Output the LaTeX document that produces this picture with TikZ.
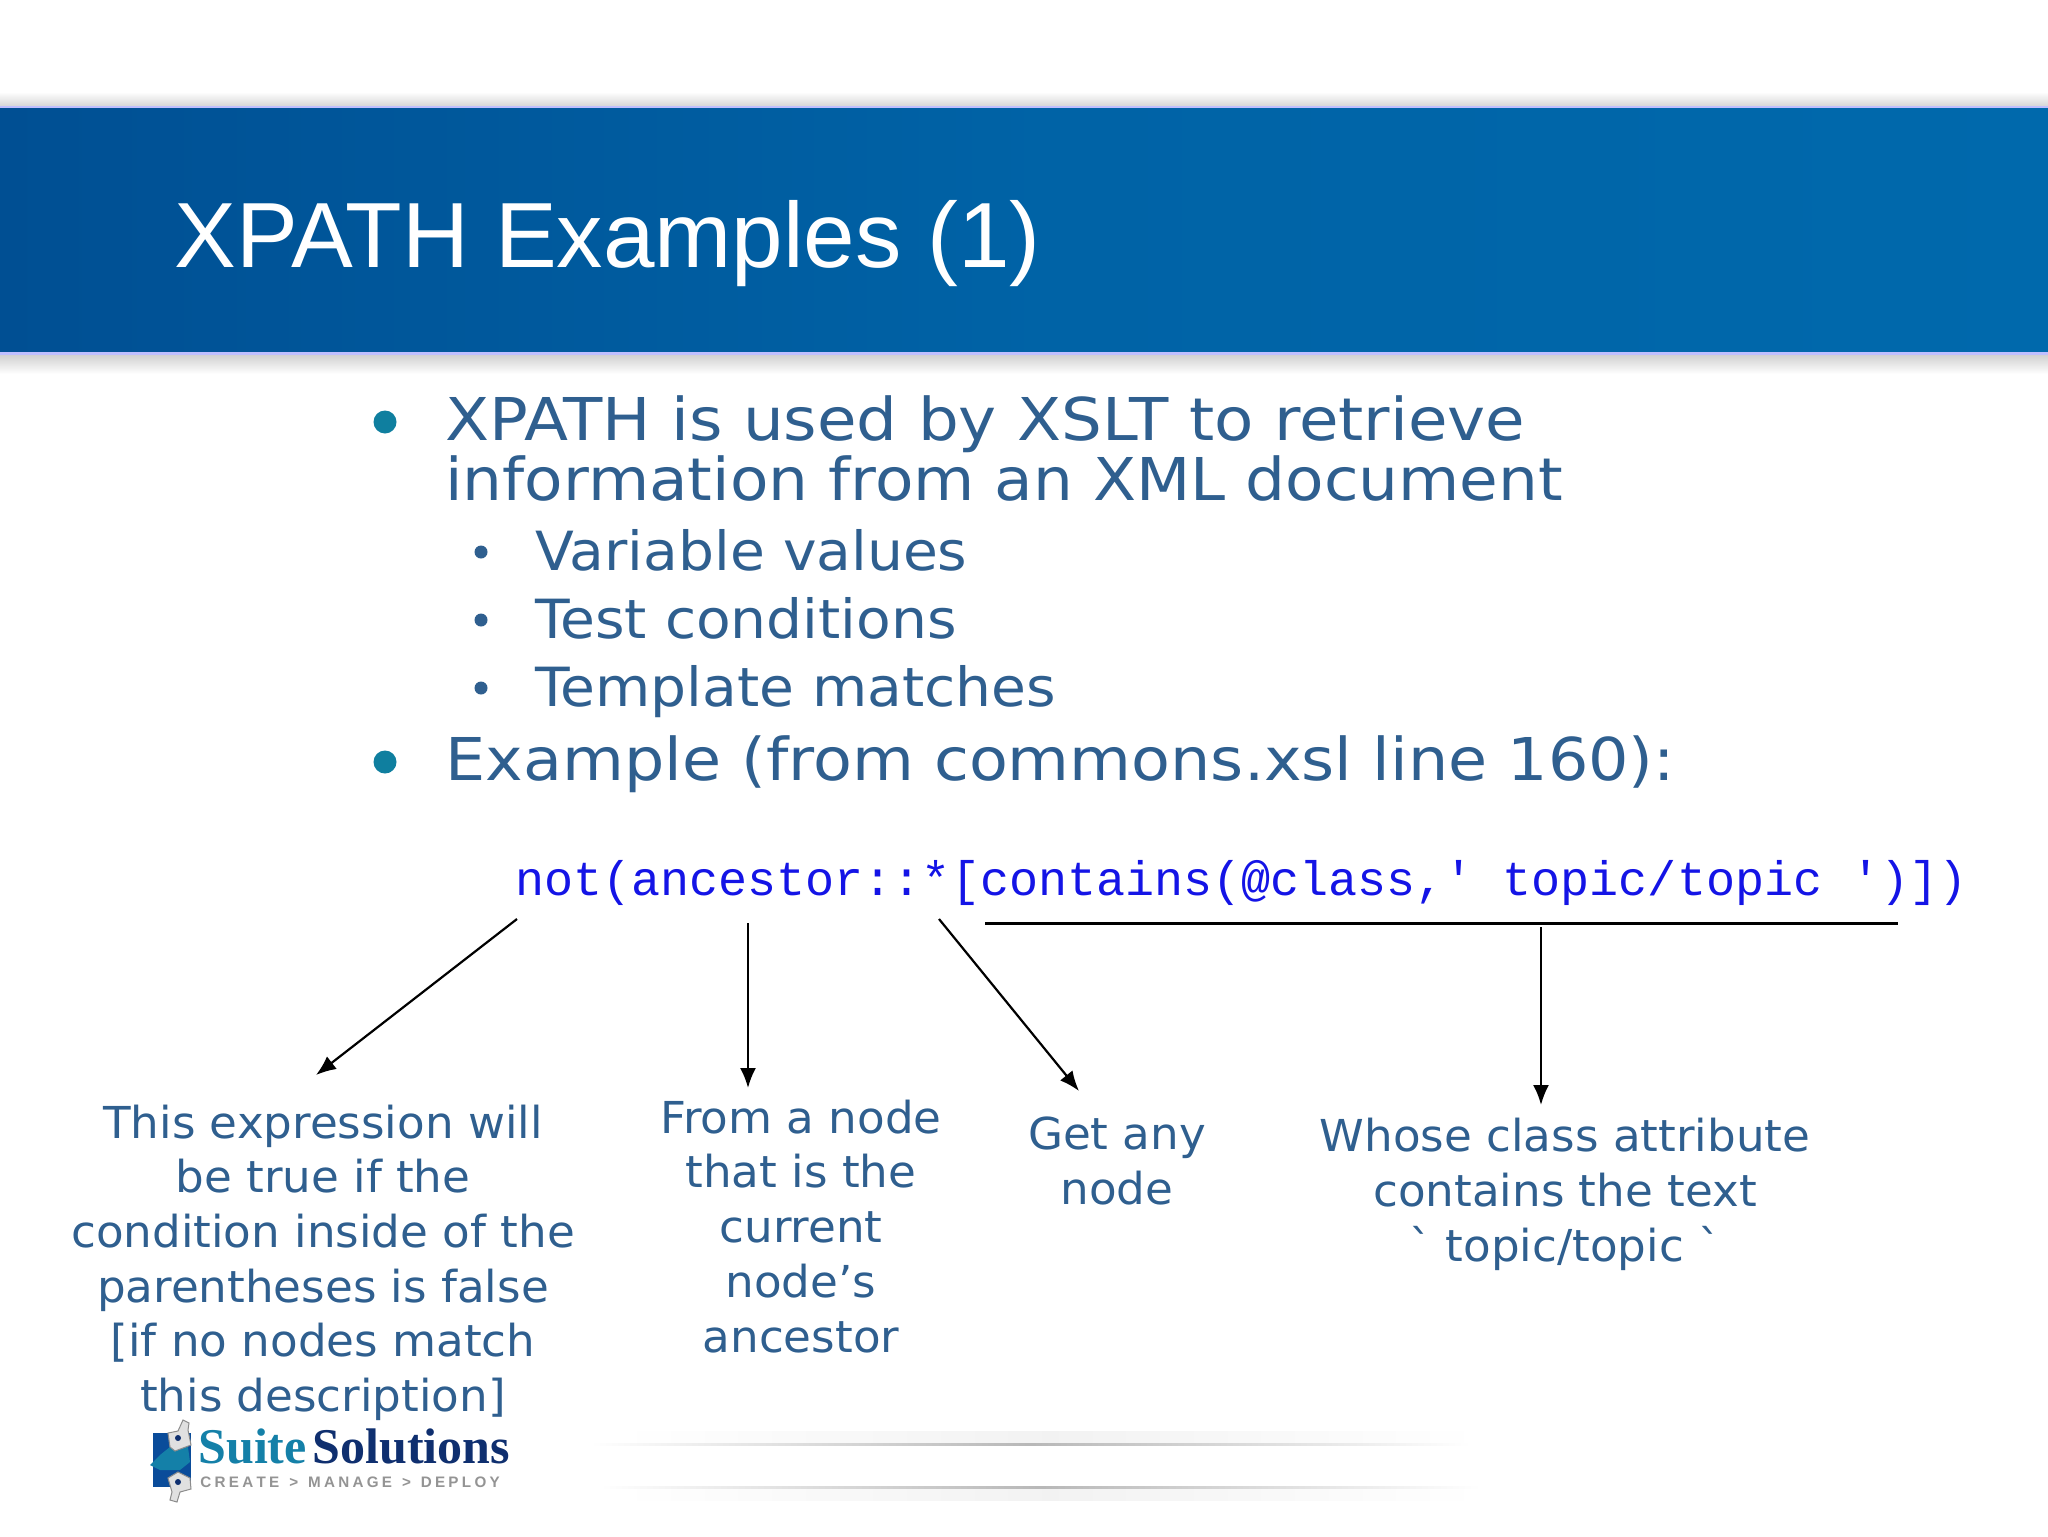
\documentclass[tikz,border=0pt]{standalone}
\usepackage{fontspec}
\setmainfont{DejaVu Sans}
\newfontfamily\titlefont{Liberation Sans}
\newfontfamily\codefont{Liberation Mono}
\newfontfamily\logofont{Liberation Serif}
\newfontfamily\bodyA[FakeStretch=1.09]{DejaVu Sans}
\newfontfamily\bodyB[FakeStretch=1.066]{DejaVu Sans}
\newfontfamily\bodyC[FakeStretch=1.077]{DejaVu Sans}
\newfontfamily\bodyD[FakeStretch=1.05]{DejaVu Sans}
\newfontfamily\bodyE[FakeStretch=1.027]{DejaVu Sans}
\usetikzlibrary{arrows.meta,fadings,shadings}
\definecolor{bodyblue}{HTML}{2F5F8F}
\definecolor{bulletteal}{HTML}{0F7F9F}
\definecolor{codeblue}{HTML}{1414E6}
\definecolor{bandleft}{HTML}{004F93}
\definecolor{bandright}{HTML}{0069AC}
\definecolor{logoteal}{HTML}{1480A8}
\definecolor{logonavy}{HTML}{0F2F6F}
\definecolor{logoblue}{HTML}{0A4C9A}
\newcommand{\tagsp}{\kern1.65pt}
\tikzset{
  x=0.5pt,y=-0.5pt,
  bullet1/.style={text=bodyblue,anchor=base west,inner sep=0pt},
  bullet2/.style={text=bodyblue,anchor=base west,inner sep=0pt},
  labeltext/.style={font=\bodyE\fontsize{22}{27.35}\selectfont,text=bodyblue,align=center,anchor=base,inner sep=0pt},
  pointer/.style={draw=black,line width=1.1pt,-{Latex[length=10pt,width=8pt]}},
  dotbig/.style={circle,fill=bulletteal,minimum size=11.5pt,inner sep=0pt},
  dotsmall/.style={circle,fill=bodyblue,minimum size=6.5pt,inner sep=0pt},
  halo/.style={left color=white,right color=white},
}
\begin{document}
\begin{tikzpicture}
\useasboundingbox (0,0) rectangle (2048,1536);
\fill[white] (0,0) rectangle (2048,1536);
% band shadow
\shade[top color=white,bottom color=black!16] (0,92) rectangle (2048,106);
\shade[top color=black!18,bottom color=white] (0,355) rectangle (2048,374);
\shade[left color=bandleft,right color=bandright,middle color=bandright!75!bandleft] (0,108) rectangle (2048,352);
\fill[blue!25!white] (0,106) rectangle (2048,108);
\fill[blue!25!white] (0,352) rectangle (2048,355);
% title
\node[inner sep=0pt,anchor=base west,text=white,font=\titlefont\fontsize{46.3}{50}\selectfont] (title) at (174,267) {XPATH Examples (1)};
% bullets
\node[dotbig] (d1) at (385,422) {};
\node[bullet1,font=\bodyA\fontsize{29.5}{30}\selectfont] (b1a) at (445,440) {XPATH is used by XSLT to retrieve};
\node[bullet1,font=\bodyB\fontsize{29.5}{30}\selectfont] (b1b) at (445,500) {information from an XML document};
\node[dotsmall] (d2) at (481,552) {};
\node[bullet2,font=\bodyD\fontsize{27}{30}\selectfont] (b2) at (535,570) {Variable values};
\node[dotsmall] (d3) at (481,620) {};
\node[bullet2,font=\bodyD\fontsize{27}{30}\selectfont] (b3) at (535,638) {Test conditions};
\node[dotsmall] (d4) at (481,688) {};
\node[bullet2,font=\bodyD\fontsize{27}{30}\selectfont] (b4) at (535,706) {Template matches};
\node[dotbig] (d5) at (385,762) {};
\node[bullet1,font=\bodyC\fontsize{29.5}{30}\selectfont] (b5) at (445,780) {Example (from commons.xsl line 160):};
% code
\node[inner sep=0pt,anchor=base west,text=codeblue,font=\codefont\fontsize{24.2}{26}\selectfont] (code) at (515,895) {not(ancestor::*[contains(@class,' topic/topic ')])};
% labels
\node[labeltext] (lab1) at (323,1411.5) {This expression will\\be true if the\\condition inside of the\\parentheses is false\\{[if no nodes match}\\this description]};
\node[labeltext] (lab2) at (801,1352) {From a node\\that is the\\current\\node’s\\ancestor};
\node[labeltext] (lab3) at (1117,1204) {Get any\\node};
\node[labeltext] (lab4) at (1565,1261) {Whose class attribute\\contains the text\\` topic/topic `};
% connectors
\coordinate (s1) at (517,919); \coordinate (e1) at (316,1075);
\coordinate (s2) at (748,923); \coordinate (e2) at (748,1088);
\coordinate (s3) at (939,919); \coordinate (e3) at (1079,1091);
\coordinate (ul) at (985,923); \coordinate (ur) at (1898,923);
\coordinate (s4) at (1541,927); \coordinate (e4) at (1541,1105);
\draw[pointer] (s1) -- (e1);
\draw[pointer] (s2) -- (e2);
\draw[pointer] (s3) -- (e3);
\draw[pointer] (s4) -- (e4);
\draw[line width=1.5pt] (ul) -- (ur);
% footer rules
\shade[halo,middle color=black!5] (620,1431) rectangle (1480,1443);
\shade[halo,middle color=black!5] (620,1488) rectangle (1480,1500);
\shade[halo,middle color=black!28] (600,1486) rectangle (1480,1488.5);
\shade[halo,middle color=black!28] (590,1443) rectangle (1470,1445.5);
% logo
\fill[logoblue] (153,1433) rectangle (191,1487);
\fill[logoteal] (150,1465) -- (160,1455) -- (170,1447) -- (188,1447) -- (190,1462) -- (180,1470) -- (160,1470) -- cycle;
\fill[black!12,draw=black!45,line width=.5pt] (168,1433) -- (178,1431) -- (183,1420) -- (189,1423) -- (188,1430) -- (191,1445) -- (175,1451) -- (170,1447) -- cycle;
\fill[logonavy] (178,1438) circle (3);
\fill[black!12,draw=black!45,line width=.5pt] (168,1478) -- (178,1472) -- (190,1478) -- (191,1489) -- (180,1492) -- (177,1502) -- (170,1500) -- (172,1492) -- cycle;
\fill[logonavy] (178,1482) circle (3);
\node[inner sep=0pt,anchor=base west,font=\logofont\bfseries\fontsize{25}{26}\selectfont] (logo) at (198,1463) {\textcolor{logoteal}{Suite}\kern3pt\textcolor{logonavy}{Solutions}};
\node[inner sep=0pt,anchor=base west,text=black!42,font=\titlefont\bfseries\fontsize{7.6}{9}\selectfont] (tag) at (200,1487) {C\tagsp R\tagsp E\tagsp A\tagsp T\tagsp E\tagsp\tagsp\tagsp >\tagsp\tagsp\tagsp M\tagsp A\tagsp N\tagsp A\tagsp G\tagsp E\tagsp\tagsp\tagsp >\tagsp\tagsp\tagsp D\tagsp E\tagsp P\tagsp L\tagsp O\tagsp Y};
\end{tikzpicture}
\end{document}
